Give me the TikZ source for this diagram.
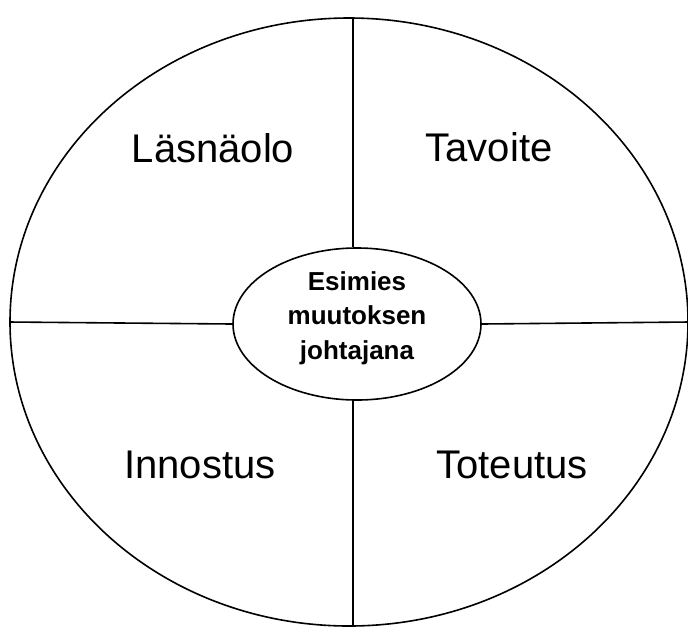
\documentclass[tikz,border=0pt]{standalone}
\usepackage{fontspec}
\setmainfont{Liberation Sans}
\usetikzlibrary{shapes.geometric}

\begin{document}
\begin{tikzpicture}[x=0.75pt, y=-0.75pt, line width=1.2pt,
    area/.style={font=\fontsize{30}{35}\selectfont},
    core/.style={draw, ellipse, minimum width=186pt, minimum height=114pt, inner sep=0pt}]
  \useasboundingbox (0,0) rectangle (688,626);
  % outer circle and the core
  \node[draw, ellipse, minimum width=508.5pt, minimum height=456pt, inner sep=0pt] (outer) at (349,322) {};
  \node[core] (core) at (357,324) {};
  \node[align=center, font=\bfseries\fontsize{19.5}{26}\selectfont] (title) at (357,318)
    {Esimies\\muutoksen\\johtajana};
  % dividing lines
  \coordinate (c) at (353,322);
  \draw (c |- outer.north) -- (c |- core.north);
  \draw (c |- core.south) -- (c |- outer.south);
  \draw (outer.west) -- (core.west);
  \draw (core.east) -- (outer.east);
  % quarters
  \node[area] (q1) at (213,148) {Läsnäolo};
  \node[area] (q2) at (489,147) {Tavoite};
  \node[area] (q3) at (200,465) {Innostus};
  \node[area] (q4) at (512,465) {Toteutus};
\end{tikzpicture}
\end{document}
